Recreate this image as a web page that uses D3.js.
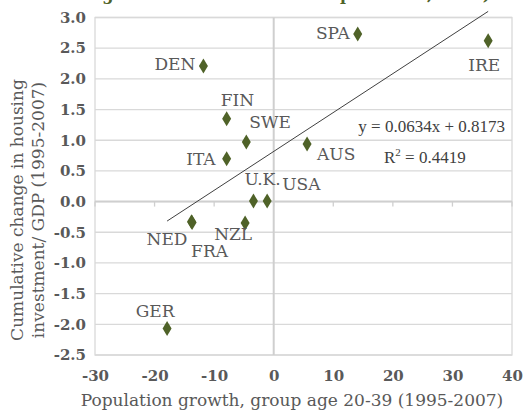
<!DOCTYPE html>
<html>
<head>
<meta charset="utf-8">
<script src="https://cdn.jsdelivr.net/npm/d3@7/dist/d3.min.js"></script>
<style>
  body { margin: 0; background: #fff; }
  svg { display: block; }
  .label { font-family: "DejaVu Serif", serif; font-size: 17px; fill: #595959; }
  .tick text { font-family: "DejaVu Serif", serif; font-size: 15px; font-weight: bold; fill: #595959; }
  .axis-title { font-family: "DejaVu Serif", serif; font-size: 17px; fill: #595959; }
  .eq { font-family: "Liberation Serif", serif; font-size: 17px; fill: #404040; }
</style>
</head>
<body>
<svg width="526" height="414"></svg>
<script>
// data
const countries = ['SPA', 'IRE', 'DEN', 'FIN', 'SWE', 'ITA', 'AUS', 'U.K.', 'USA', 'NED', 'FRA', 'NZL', 'GER'];
const popGrowth = [14.1, 36.0, -11.8, -7.9, -4.6, -7.9, 5.6, -3.4, -1.1, -13.8, -13.7, -4.8, -17.9];
const housingChange = [2.73, 2.62, 2.21, 1.35, 0.97, 0.70, 0.94, 0.01, 0.01, -0.33, -0.34, -0.35, -2.07];
const xTicks = [-30, -20, -10, 0, 10, 20, 30, 40];
const yTicks = [3.0, 2.5, 2.0, 1.5, 1.0, 0.5, 0.0, -0.5, -1.0, -1.5, -2.0, -2.5];
const slope = 0.0634, intercept = 0.8173, r2 = 0.4419;

// label placement relative to each marker (dx, dy, anchor)
const labelPos = {
    'SPA': [-8, 5, 'end'], 'IRE': [-4, 30, 'middle'], 'DEN': [-8, 4, 'end'],
    'FIN': [-6, -13, 'start'], 'SWE': [3, -14, 'start'], 'ITA': [-11, 6, 'end'],
    'AUS': [10, 16, 'start'], 'U.K.': [-9, -16, 'start'], 'USA': [15, -11, 'start'],
    'NED': [-4, 23, 'end'], 'FRA': [-1, 35, 'start'], 'NZL': [7, 17, 'end'],
    'GER': [-12, -12, 'middle']
};

const svg = d3.select('svg');
const margin = { left: 95, right: 14, top: 17.5, bottom: 59 };
const W = 526, H = 414;

const x = d3.scaleLinear().domain([-30, 40]).range([margin.left, W - margin.right]);
const y = d3.scaleLinear().domain([-2.5, 3.0]).range([H - margin.bottom, margin.top]);

const points = countries.map((c, i) => ({ name: c, x: popGrowth[i], y: housingChange[i] }));

// title, cut off at the top edge (only descenders show)
svg.append('text')
    .attr('x', 38).attr('y', 0)
    .style('font-family', '"DejaVu Serif", serif')
    .style('font-size', '16px').style('font-weight', 'bold')
    .style('fill', '#4F6228')
    .text('Housing investment and demand pressures, 2007)');

// horizontal gridlines
svg.append('g').selectAll('line')
    .data(yTicks)
    .enter().append('line')
    .attr('x1', x(-30)).attr('x2', x(40))
    .attr('y1', d => y(d)).attr('y2', d => y(d))
    .attr('stroke', '#d9d9d9').attr('stroke-width', 1.3);

// plot border
svg.append('rect')
    .attr('x', x(-30)).attr('y', y(3))
    .attr('width', x(40) - x(-30)).attr('height', y(-2.5) - y(3))
    .attr('fill', 'none').attr('stroke', '#d9d9d9').attr('stroke-width', 1.3);

// axes through zero
svg.append('line')
    .attr('x1', x(0)).attr('x2', x(0)).attr('y1', y(3)).attr('y2', y(-2.5))
    .attr('stroke', '#cfcfcf').attr('stroke-width', 2);
svg.append('line')
    .attr('x1', x(-30)).attr('x2', x(40)).attr('y1', y(0)).attr('y2', y(0))
    .attr('stroke', '#cfcfcf').attr('stroke-width', 2);
svg.append('g').selectAll('line')
    .data(xTicks)
    .enter().append('line')
    .attr('x1', d => x(d)).attr('x2', d => x(d))
    .attr('y1', y(0)).attr('y2', y(0) + 5)
    .attr('stroke', '#cfcfcf').attr('stroke-width', 1.3);

// tick labels (plain hyphen for negatives, like the original)
const fmtX = d => String(d);
const fmtY = d => d.toFixed(1);

const xAxis = svg.append('g')
    .attr('transform', `translate(0,${y(-2.5) + 3})`)
    .call(d3.axisBottom(x).tickValues(xTicks).tickSize(0).tickPadding(12).tickFormat(fmtX));
xAxis.select('.domain').remove();

const yAxis = svg.append('g')
    .attr('transform', `translate(${x(-30) - 3},0)`)
    .call(d3.axisLeft(y).tickValues(yTicks).tickSize(0).tickPadding(6).tickFormat(fmtY));
yAxis.select('.domain').remove();

// axis titles
svg.append('text')
    .attr('class', 'axis-title')
    .attr('x', 292).attr('y', 406)
    .attr('text-anchor', 'middle')
    .text('Population growth, group age 20-39 (1995-2007)');

const yTitle = svg.append('text')
    .attr('class', 'axis-title')
    .attr('transform', 'translate(23,210) rotate(-90)')
    .attr('text-anchor', 'middle');
yTitle.append('tspan').attr('x', 0).attr('y', 0).text('Cumulative change in housing');
yTitle.append('tspan').attr('x', 0).attr('y', 21).text('investment/ GDP (1995-2007)');

// trendline across data range
const xMin = d3.min(popGrowth), xMax = d3.max(popGrowth);
svg.append('line')
    .attr('x1', x(xMin)).attr('y1', y(slope * xMin + intercept))
    .attr('x2', x(xMax)).attr('y2', y(slope * xMax + intercept))
    .attr('stroke', '#404040').attr('stroke-width', 1);

// equation
svg.append('text').attr('class', 'eq')
    .attr('x', 505).attr('y', 132).attr('text-anchor', 'end')
    .text(`y = ${slope}x + ${intercept}`);
const r2Text = svg.append('text').attr('class', 'eq')
    .attr('x', 384).attr('y', 163);
r2Text.append('tspan').text('R');
r2Text.append('tspan').attr('dy', -7).style('font-size', '11px').text('2');
r2Text.append('tspan').attr('dy', 7).text(` = ${r2}`);

// markers
const diamond = 'M0,-7.5 L4.5,0 L0,7.5 L-4.5,0 Z';
svg.append('g').selectAll('path')
    .data(points)
    .enter().append('path')
    .attr('d', diamond)
    .attr('transform', d => `translate(${x(d.x)},${y(d.y)})`)
    .attr('fill', '#4F6228');

// country labels
svg.append('g').selectAll('text')
    .data(points)
    .enter().append('text')
    .attr('class', 'label')
    .attr('x', d => x(d.x) + labelPos[d.name][0])
    .attr('y', d => y(d.y) + labelPos[d.name][1])
    .attr('text-anchor', d => labelPos[d.name][2])
    .text(d => d.name);
</script>
</body>
</html>
